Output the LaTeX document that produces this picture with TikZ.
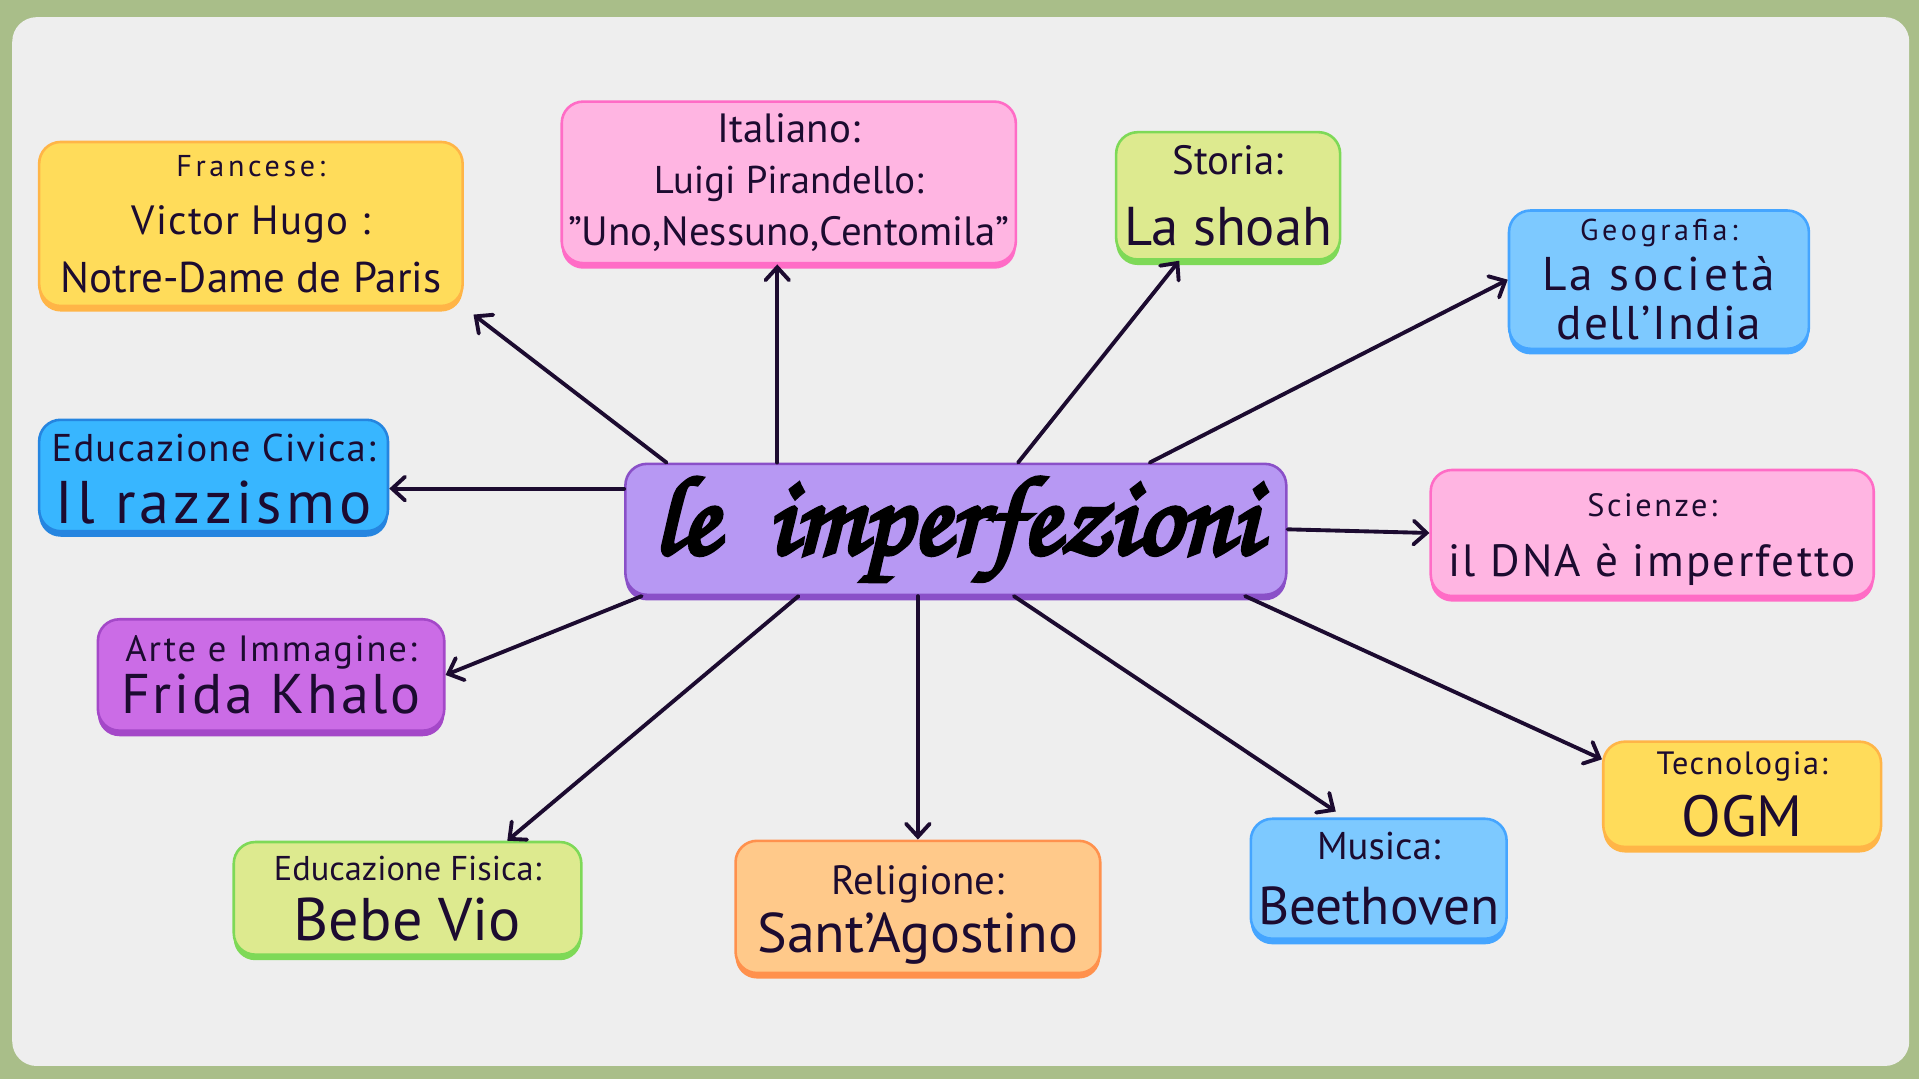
\documentclass[tikz,border=0pt]{standalone}
\usepackage{fontspec}
\setmainfont{PT Sans}
\newfontfamily\titlefont{texgyrechorus-mediumitalic.otf}[FakeBold=4]
\usetikzlibrary{arrows.meta,shadows}

\definecolor{sage}{HTML}{A9BE89}
\definecolor{panel}{HTML}{EEEEEE}
\definecolor{ink}{HTML}{1C0B30}
\definecolor{yel}{HTML}{FFDC5A}
\definecolor{yelD}{HTML}{FFB547}
\definecolor{pnk}{HTML}{FFB5E2}
\definecolor{pnkD}{HTML}{FF6CC6}
\definecolor{lgr}{HTML}{DDEA8F}
\definecolor{lgrD}{HTML}{7ED957}
\definecolor{lbl}{HTML}{7DC9FF}
\definecolor{lblD}{HTML}{45A5FF}
\definecolor{blu}{HTML}{38B6FF}
\definecolor{bluD}{HTML}{2585E0}
\definecolor{vio}{HTML}{B798F3}
\definecolor{vioD}{HTML}{8A50C8}
\definecolor{mag}{HTML}{CB6CE6}
\definecolor{magD}{HTML}{A448C8}
\definecolor{ora}{HTML}{FFC98A}
\definecolor{oraD}{HTML}{FF914D}

\newcommand{\sz}[2]{\fontsize{#1}{#2}\selectfont}
\newcommand{\ls}[1]{\addfontfeatures{LetterSpace=#1}}

\begin{document}
\begin{tikzpicture}[
  box/.style 2 args={draw=#2, fill=#1, line width=0.6pt, rounded corners=5pt, align=center, text=ink, inner sep=1pt,
    drop shadow={shadow xshift=0pt, shadow yshift=-1.3pt, fill=#2, opacity=1}},
  arr/.style={draw=ink, line width=0.9pt, line cap=round, -{Straight Barb[length=3pt,width=5.5pt,line cap=round]}}
]
  \fill[sage] (0,0) rectangle (15.68,8.82);
  \fill[panel, rounded corners=0.2cm] (0.10,0.11) rectangle (15.60,8.68);

  \node[box={vio}{vioD}, minimum width=5.40cm, minimum height=1.07cm, text=black] at (7.81,4.495) (imp) {\titlefont\sz{26}{30}le\ \ imperfezioni};

  \node[box={yel}{yelD}, minimum width=3.46cm, minimum height=1.34cm, font=\sz{10}{12.5}] at (2.05,6.99) (fra) {\sz{7}{12}\ls{12}Francese:\\[1pt] \sz{9.5}{12.5}\ls{3}Victor Hugo :\\[1pt] Notre-Dame de Paris};
  \node[box={pnk}{pnkD}, minimum width=3.71cm, minimum height=1.32cm, font=\sz{9.5}{12}] at (6.445,7.33) (ita) {Italiano:\\ \sz{9}{12}Luigi Pirandello:\\ ”Uno,Nessuno,Centomila”};
  \node[box={lgr}{lgrD}, minimum width=1.83cm, minimum height=1.04cm] at (10.035,7.22) (sto) {\sz{9.5}{15}Storia:\\[4.5pt] \sz{12.7}{14}La shoah};
  \node[box={lbl}{lblD}, minimum width=2.45cm, minimum height=1.13cm, font=\sz{11}{11.5}] at (13.555,6.535) (geo) {\sz{7}{10}\ls{12}Geografia:\\ \ls{8}La società\\ \ls{4}dell’India};
  \node[box={blu}{bluD}, minimum width=2.85cm, minimum height=0.91cm] at (1.745,4.935) (civ) {\rule{0pt}{8pt}\sz{9}{12.8}\ls{3}Educazione Civica:\\[2.5pt] \sz{14}{14}\ls{7}Il razzismo};
  \node[box={pnk}{pnkD}, minimum width=3.62cm, minimum height=1.03cm] at (13.50,4.465) (sci) {\rule{0pt}{8.5pt}\sz{7.5}{12.8}\ls{8}Scienze:\\[2pt] \sz{10.5}{12}\ls{5}il DNA è imperfetto};
  \node[box={mag}{magD}, minimum width=2.83cm, minimum height=0.91cm] at (2.215,3.305) (art) {\sz{8.5}{10}\ls{5}Arte e Immagine:\\ \sz{13}{13}\ls{5}Frida Khalo};
  \node[box={lgr}{lgrD}, minimum width=2.84cm, minimum height=0.92cm] at (3.33,1.48) (fis) {\sz{8}{12}Educazione Fisica:\\[2pt] \sz{14}{14}Bebe Vio};
  \node[box={ora}{oraD}, minimum width=2.98cm, minimum height=1.08cm] at (7.50,1.41) (rel) {\rule{0pt}{10.5pt}\sz{9.5}{12}Religione:\\[1.5pt] \sz{13}{13}Sant’Agostino};
  \node[box={lbl}{lblD}, minimum width=2.09cm, minimum height=0.98cm] at (11.265,1.64) (mus) {\sz{9}{14}Musica:\\[3pt] \sz{12.4}{13}Beethoven};
  \node[box={yel}{yelD}, minimum width=2.27cm, minimum height=0.86cm] at (14.235,2.33) (tec) {\sz{7.5}{12}\ls{5}Tecnologia:\\[2.5pt] \sz{13.5}{13.5}OGM};

  \foreach \a/\b in {imp.47/sto.-127,imp.19.5/geo.west,imp.east/sci.west,imp.-168/art.east,imp.-157/fis.30,imp.-13.5/tec.166} \draw[arr] (\a) -- (\b);
  \draw[arr, shorten >=2.8pt] (imp.167) -- (fra.south east);
  \draw[arr, shorten >=2.5pt] (imp.-49) -- (mus.119);
  \draw[arr] (imp.north -| ita.-98) -- (ita.-98);
  \draw[arr] (imp.173) -- (imp.173 -| civ.east);
  \draw[arr] (imp.south -| rel.north) -- (rel.north);
\end{tikzpicture}
\end{document}
